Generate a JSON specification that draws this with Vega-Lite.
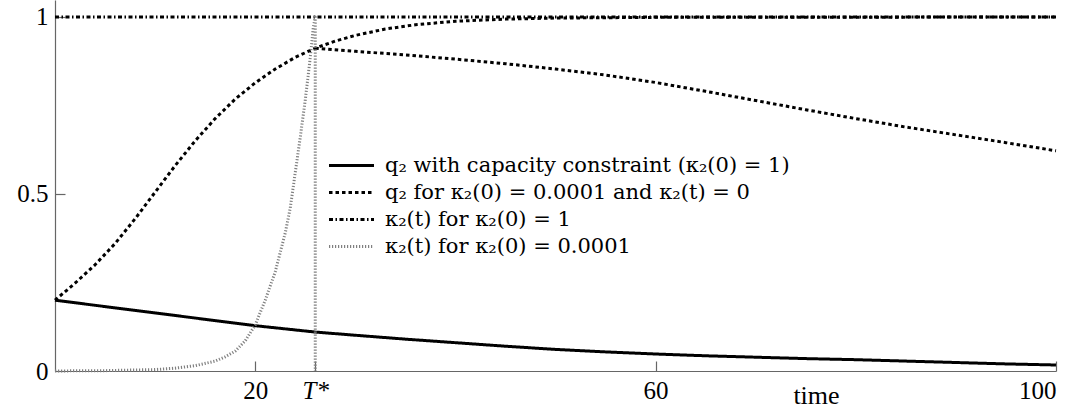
{
  "$schema": "https://vega.github.io/schema/vega-lite/v6.json",
  "width": 1001,
  "height": 371,
  "autosize": "none",
  "padding": {"left": 55, "top": 0, "right": 18, "bottom": 41},
  "background": "white",
  "config": {
    "view": {"stroke": null},
    "font": "'Liberation Serif', 'DejaVu Serif', serif",
    "legend": {"labelFont": "'DejaVu Serif', serif", "labelFontSize": 21, "labelColor": "#000000"}
  },
  "data": {
    "values": [
      {"series": "q₂ with capacity constraint (κ₂(0) = 1)", "branch": "s", "k": 0, "t": 0, "v": 0.200},
      {"series": "q₂ with capacity constraint (κ₂(0) = 1)", "branch": "s", "k": 1, "t": 5, "v": 0.182},
      {"series": "q₂ with capacity constraint (κ₂(0) = 1)", "branch": "s", "k": 2, "t": 10, "v": 0.164},
      {"series": "q₂ with capacity constraint (κ₂(0) = 1)", "branch": "s", "k": 3, "t": 15, "v": 0.146},
      {"series": "q₂ with capacity constraint (κ₂(0) = 1)", "branch": "s", "k": 4, "t": 20, "v": 0.128},
      {"series": "q₂ with capacity constraint (κ₂(0) = 1)", "branch": "s", "k": 5, "t": 26, "v": 0.110},
      {"series": "q₂ with capacity constraint (κ₂(0) = 1)", "branch": "s", "k": 6, "t": 30, "v": 0.101},
      {"series": "q₂ with capacity constraint (κ₂(0) = 1)", "branch": "s", "k": 7, "t": 35, "v": 0.090},
      {"series": "q₂ with capacity constraint (κ₂(0) = 1)", "branch": "s", "k": 8, "t": 40, "v": 0.080},
      {"series": "q₂ with capacity constraint (κ₂(0) = 1)", "branch": "s", "k": 9, "t": 45, "v": 0.070},
      {"series": "q₂ with capacity constraint (κ₂(0) = 1)", "branch": "s", "k": 10, "t": 50, "v": 0.061},
      {"series": "q₂ with capacity constraint (κ₂(0) = 1)", "branch": "s", "k": 11, "t": 55, "v": 0.054},
      {"series": "q₂ with capacity constraint (κ₂(0) = 1)", "branch": "s", "k": 12, "t": 60, "v": 0.048},
      {"series": "q₂ with capacity constraint (κ₂(0) = 1)", "branch": "s", "k": 13, "t": 65, "v": 0.043},
      {"series": "q₂ with capacity constraint (κ₂(0) = 1)", "branch": "s", "k": 14, "t": 70, "v": 0.039},
      {"series": "q₂ with capacity constraint (κ₂(0) = 1)", "branch": "s", "k": 15, "t": 75, "v": 0.035},
      {"series": "q₂ with capacity constraint (κ₂(0) = 1)", "branch": "s", "k": 16, "t": 80, "v": 0.032},
      {"series": "q₂ with capacity constraint (κ₂(0) = 1)", "branch": "s", "k": 17, "t": 85, "v": 0.028},
      {"series": "q₂ with capacity constraint (κ₂(0) = 1)", "branch": "s", "k": 18, "t": 90, "v": 0.024},
      {"series": "q₂ with capacity constraint (κ₂(0) = 1)", "branch": "s", "k": 19, "t": 95, "v": 0.020},
      {"series": "q₂ with capacity constraint (κ₂(0) = 1)", "branch": "s", "k": 20, "t": 100, "v": 0.017},

      {"series": "q₂ for κ₂(0) = 0.0001 and κ₂(t) = 0", "branch": "up", "k": 0, "t": 0, "v": 0.200},
      {"series": "q₂ for κ₂(0) = 0.0001 and κ₂(t) = 0", "branch": "up", "k": 1, "t": 2, "v": 0.248},
      {"series": "q₂ for κ₂(0) = 0.0001 and κ₂(t) = 0", "branch": "up", "k": 2, "t": 4, "v": 0.300},
      {"series": "q₂ for κ₂(0) = 0.0001 and κ₂(t) = 0", "branch": "up", "k": 3, "t": 6, "v": 0.360},
      {"series": "q₂ for κ₂(0) = 0.0001 and κ₂(t) = 0", "branch": "up", "k": 4, "t": 8, "v": 0.430},
      {"series": "q₂ for κ₂(0) = 0.0001 and κ₂(t) = 0", "branch": "up", "k": 5, "t": 10, "v": 0.505},
      {"series": "q₂ for κ₂(0) = 0.0001 and κ₂(t) = 0", "branch": "up", "k": 6, "t": 12, "v": 0.580},
      {"series": "q₂ for κ₂(0) = 0.0001 and κ₂(t) = 0", "branch": "up", "k": 7, "t": 14, "v": 0.650},
      {"series": "q₂ for κ₂(0) = 0.0001 and κ₂(t) = 0", "branch": "up", "k": 8, "t": 16, "v": 0.713},
      {"series": "q₂ for κ₂(0) = 0.0001 and κ₂(t) = 0", "branch": "up", "k": 9, "t": 18, "v": 0.768},
      {"series": "q₂ for κ₂(0) = 0.0001 and κ₂(t) = 0", "branch": "up", "k": 10, "t": 20, "v": 0.814},
      {"series": "q₂ for κ₂(0) = 0.0001 and κ₂(t) = 0", "branch": "up", "k": 11, "t": 22, "v": 0.853},
      {"series": "q₂ for κ₂(0) = 0.0001 and κ₂(t) = 0", "branch": "up", "k": 12, "t": 24, "v": 0.886},
      {"series": "q₂ for κ₂(0) = 0.0001 and κ₂(t) = 0", "branch": "up", "k": 13, "t": 26, "v": 0.912},
      {"series": "q₂ for κ₂(0) = 0.0001 and κ₂(t) = 0", "branch": "up", "k": 14, "t": 28, "v": 0.932},
      {"series": "q₂ for κ₂(0) = 0.0001 and κ₂(t) = 0", "branch": "up", "k": 15, "t": 30, "v": 0.948},
      {"series": "q₂ for κ₂(0) = 0.0001 and κ₂(t) = 0", "branch": "up", "k": 16, "t": 33, "v": 0.966},
      {"series": "q₂ for κ₂(0) = 0.0001 and κ₂(t) = 0", "branch": "up", "k": 17, "t": 36, "v": 0.978},
      {"series": "q₂ for κ₂(0) = 0.0001 and κ₂(t) = 0", "branch": "up", "k": 18, "t": 40, "v": 0.988},
      {"series": "q₂ for κ₂(0) = 0.0001 and κ₂(t) = 0", "branch": "up", "k": 19, "t": 45, "v": 0.994},
      {"series": "q₂ for κ₂(0) = 0.0001 and κ₂(t) = 0", "branch": "up", "k": 20, "t": 50, "v": 0.997},
      {"series": "q₂ for κ₂(0) = 0.0001 and κ₂(t) = 0", "branch": "up", "k": 21, "t": 60, "v": 0.999},
      {"series": "q₂ for κ₂(0) = 0.0001 and κ₂(t) = 0", "branch": "up", "k": 22, "t": 100, "v": 1.000},

      {"series": "q₂ for κ₂(0) = 0.0001 and κ₂(t) = 0", "branch": "down", "k": 0, "t": 26, "v": 0.912},
      {"series": "q₂ for κ₂(0) = 0.0001 and κ₂(t) = 0", "branch": "down", "k": 1, "t": 30, "v": 0.903},
      {"series": "q₂ for κ₂(0) = 0.0001 and κ₂(t) = 0", "branch": "down", "k": 2, "t": 35, "v": 0.893},
      {"series": "q₂ for κ₂(0) = 0.0001 and κ₂(t) = 0", "branch": "down", "k": 3, "t": 40, "v": 0.881},
      {"series": "q₂ for κ₂(0) = 0.0001 and κ₂(t) = 0", "branch": "down", "k": 4, "t": 45, "v": 0.868},
      {"series": "q₂ for κ₂(0) = 0.0001 and κ₂(t) = 0", "branch": "down", "k": 5, "t": 50, "v": 0.853},
      {"series": "q₂ for κ₂(0) = 0.0001 and κ₂(t) = 0", "branch": "down", "k": 6, "t": 55, "v": 0.836},
      {"series": "q₂ for κ₂(0) = 0.0001 and κ₂(t) = 0", "branch": "down", "k": 7, "t": 60, "v": 0.815},
      {"series": "q₂ for κ₂(0) = 0.0001 and κ₂(t) = 0", "branch": "down", "k": 8, "t": 65, "v": 0.790},
      {"series": "q₂ for κ₂(0) = 0.0001 and κ₂(t) = 0", "branch": "down", "k": 9, "t": 70, "v": 0.764},
      {"series": "q₂ for κ₂(0) = 0.0001 and κ₂(t) = 0", "branch": "down", "k": 10, "t": 75, "v": 0.738},
      {"series": "q₂ for κ₂(0) = 0.0001 and κ₂(t) = 0", "branch": "down", "k": 11, "t": 80, "v": 0.713},
      {"series": "q₂ for κ₂(0) = 0.0001 and κ₂(t) = 0", "branch": "down", "k": 12, "t": 85, "v": 0.689},
      {"series": "q₂ for κ₂(0) = 0.0001 and κ₂(t) = 0", "branch": "down", "k": 13, "t": 90, "v": 0.667},
      {"series": "q₂ for κ₂(0) = 0.0001 and κ₂(t) = 0", "branch": "down", "k": 14, "t": 95, "v": 0.645},
      {"series": "q₂ for κ₂(0) = 0.0001 and κ₂(t) = 0", "branch": "down", "k": 15, "t": 100, "v": 0.622},

      {"series": "κ₂(t) for κ₂(0) = 1", "branch": "c", "k": 0, "t": 0, "v": 1},
      {"series": "κ₂(t) for κ₂(0) = 1", "branch": "c", "k": 1, "t": 100, "v": 1},

      {"series": "κ₂(t) for κ₂(0) = 0.0001", "branch": "g", "k": 0, "t": 0, "v": 0.0001},
      {"series": "κ₂(t) for κ₂(0) = 0.0001", "branch": "g", "k": 1, "t": 5, "v": 0.001},
      {"series": "κ₂(t) for κ₂(0) = 0.0001", "branch": "g", "k": 2, "t": 10, "v": 0.004},
      {"series": "κ₂(t) for κ₂(0) = 0.0001", "branch": "g", "k": 3, "t": 12, "v": 0.008},
      {"series": "κ₂(t) for κ₂(0) = 0.0001", "branch": "g", "k": 4, "t": 14, "v": 0.015},
      {"series": "κ₂(t) for κ₂(0) = 0.0001", "branch": "g", "k": 5, "t": 16, "v": 0.028},
      {"series": "κ₂(t) for κ₂(0) = 0.0001", "branch": "g", "k": 6, "t": 17, "v": 0.040},
      {"series": "κ₂(t) for κ₂(0) = 0.0001", "branch": "g", "k": 7, "t": 18, "v": 0.056},
      {"series": "κ₂(t) for κ₂(0) = 0.0001", "branch": "g", "k": 8, "t": 19, "v": 0.085},
      {"series": "κ₂(t) for κ₂(0) = 0.0001", "branch": "g", "k": 9, "t": 20, "v": 0.130},
      {"series": "κ₂(t) for κ₂(0) = 0.0001", "branch": "g", "k": 10, "t": 21, "v": 0.200},
      {"series": "κ₂(t) for κ₂(0) = 0.0001", "branch": "g", "k": 11, "t": 22, "v": 0.280},
      {"series": "κ₂(t) for κ₂(0) = 0.0001", "branch": "g", "k": 12, "t": 23, "v": 0.390},
      {"series": "κ₂(t) for κ₂(0) = 0.0001", "branch": "g", "k": 13, "t": 23.5, "v": 0.460},
      {"series": "κ₂(t) for κ₂(0) = 0.0001", "branch": "g", "k": 14, "t": 24, "v": 0.560},
      {"series": "κ₂(t) for κ₂(0) = 0.0001", "branch": "g", "k": 15, "t": 24.5, "v": 0.660},
      {"series": "κ₂(t) for κ₂(0) = 0.0001", "branch": "g", "k": 16, "t": 25, "v": 0.765},
      {"series": "κ₂(t) for κ₂(0) = 0.0001", "branch": "g", "k": 17, "t": 25.5, "v": 0.885},
      {"series": "κ₂(t) for κ₂(0) = 0.0001", "branch": "g", "k": 18, "t": 25.8, "v": 0.970},
      {"series": "κ₂(t) for κ₂(0) = 0.0001", "branch": "g", "k": 19, "t": 26, "v": 1.0},
      {"series": "κ₂(t) for κ₂(0) = 0.0001", "branch": "g", "k": 20, "t": 26, "v": 0}
    ]
  },
  "mark": {"type": "line", "strokeCap": "butt", "strokeJoin": "round"},
  "encoding": {
    "x": {
      "field": "t",
      "type": "quantitative",
      "scale": {"domain": [0, 100], "nice": false, "zero": false},
      "axis": {
        "values": [20, 26, 60, 100],
        "labelExpr": "datum.value == 26 ? 'T*' : datum.label",
        "labelFontStyle": {"condition": {"test": "datum.value == 26", "value": "italic"}, "value": "normal"},
        "grid": false,
        "domainColor": "#666666",
        "domainWidth": 1.2,
        "tickColor": "#666666",
        "tickWidth": 1.2,
        "tickSize": -10,
        "labelBaseline": "alphabetic",
        "labelPadding": 37,
        "labelFontSize": 25,
        "labelColor": "#000000",
        "labelFont": "'Liberation Serif', 'DejaVu Serif', serif",
        "title": "time",
        "titleFont": "'Liberation Serif', 'DejaVu Serif', serif",
        "titleFontSize": 26,
        "titleFontWeight": "normal",
        "titleColor": "#000000",
        "titleX": 761,
        "titleY": 32,
        "titleBaseline": "alphabetic",
        "titleAnchor": null,
        "titleAlign": "center"
      }
    },
    "y": {
      "field": "v",
      "type": "quantitative",
      "scale": {"domain": [0, 1.048], "nice": false},
      "axis": {
        "values": [0, 0.5, 1],
        "format": "~g",
        "grid": false,
        "domainColor": "#666666",
        "domainWidth": 1.2,
        "tickColor": "#666666",
        "tickWidth": 1.2,
        "tickSize": -10,
        "labelPadding": 17,
        "labelFontSize": 25,
        "labelColor": "#000000",
        "labelFont": "'Liberation Serif', 'DejaVu Serif', serif",
        "title": null
      }
    },
    "color": {
      "field": "series",
      "type": "nominal",
      "scale": {
        "domain": ["q₂ with capacity constraint (κ₂(0) = 1)", "q₂ for κ₂(0) = 0.0001 and κ₂(t) = 0", "κ₂(t) for κ₂(0) = 1", "κ₂(t) for κ₂(0) = 0.0001"],
        "range": ["#000000", "#000000", "#000000", "#808080"]
      },
      "legend": {
        "title": null,
        "orient": "none",
        "legendX": 286,
        "legendY": 155,
        "padding": 0,
        "symbolType": "M-2.5,0H2.5",
        "symbolSize": 324,
        "symbolFillColor": "transparent",
        "labelFont": "'DejaVu Serif', serif",
        "labelFontSize": 21,
        "labelColor": "#000000",
        "labelOffset": 23,
        "rowPadding": 5,
        "labelLimit": 600
      }
    },
    "strokeDash": {
      "field": "series",
      "type": "nominal",
      "scale": {
        "domain": ["q₂ with capacity constraint (κ₂(0) = 1)", "q₂ for κ₂(0) = 0.0001 and κ₂(t) = 0", "κ₂(t) for κ₂(0) = 1", "κ₂(t) for κ₂(0) = 0.0001"],
        "range": [[1, 0], [3.5, 3], [4, 2.5, 1.5, 2.5], [1.2, 1.8]]
      },
      "legend": {"labelFont": "'DejaVu Serif', serif", "labelFontSize": 21}
    },
    "strokeWidth": {
      "field": "series",
      "type": "nominal",
      "scale": {
        "domain": ["q₂ with capacity constraint (κ₂(0) = 1)", "q₂ for κ₂(0) = 0.0001 and κ₂(t) = 0", "κ₂(t) for κ₂(0) = 1", "κ₂(t) for κ₂(0) = 0.0001"],
        "range": [3, 3, 2, 1.4]
      },
      "legend": {"labelFont": "'DejaVu Serif', serif", "labelFontSize": 21}
    },
    "detail": {"field": "branch"},
    "order": {"field": "k", "type": "quantitative"}
  }
}
